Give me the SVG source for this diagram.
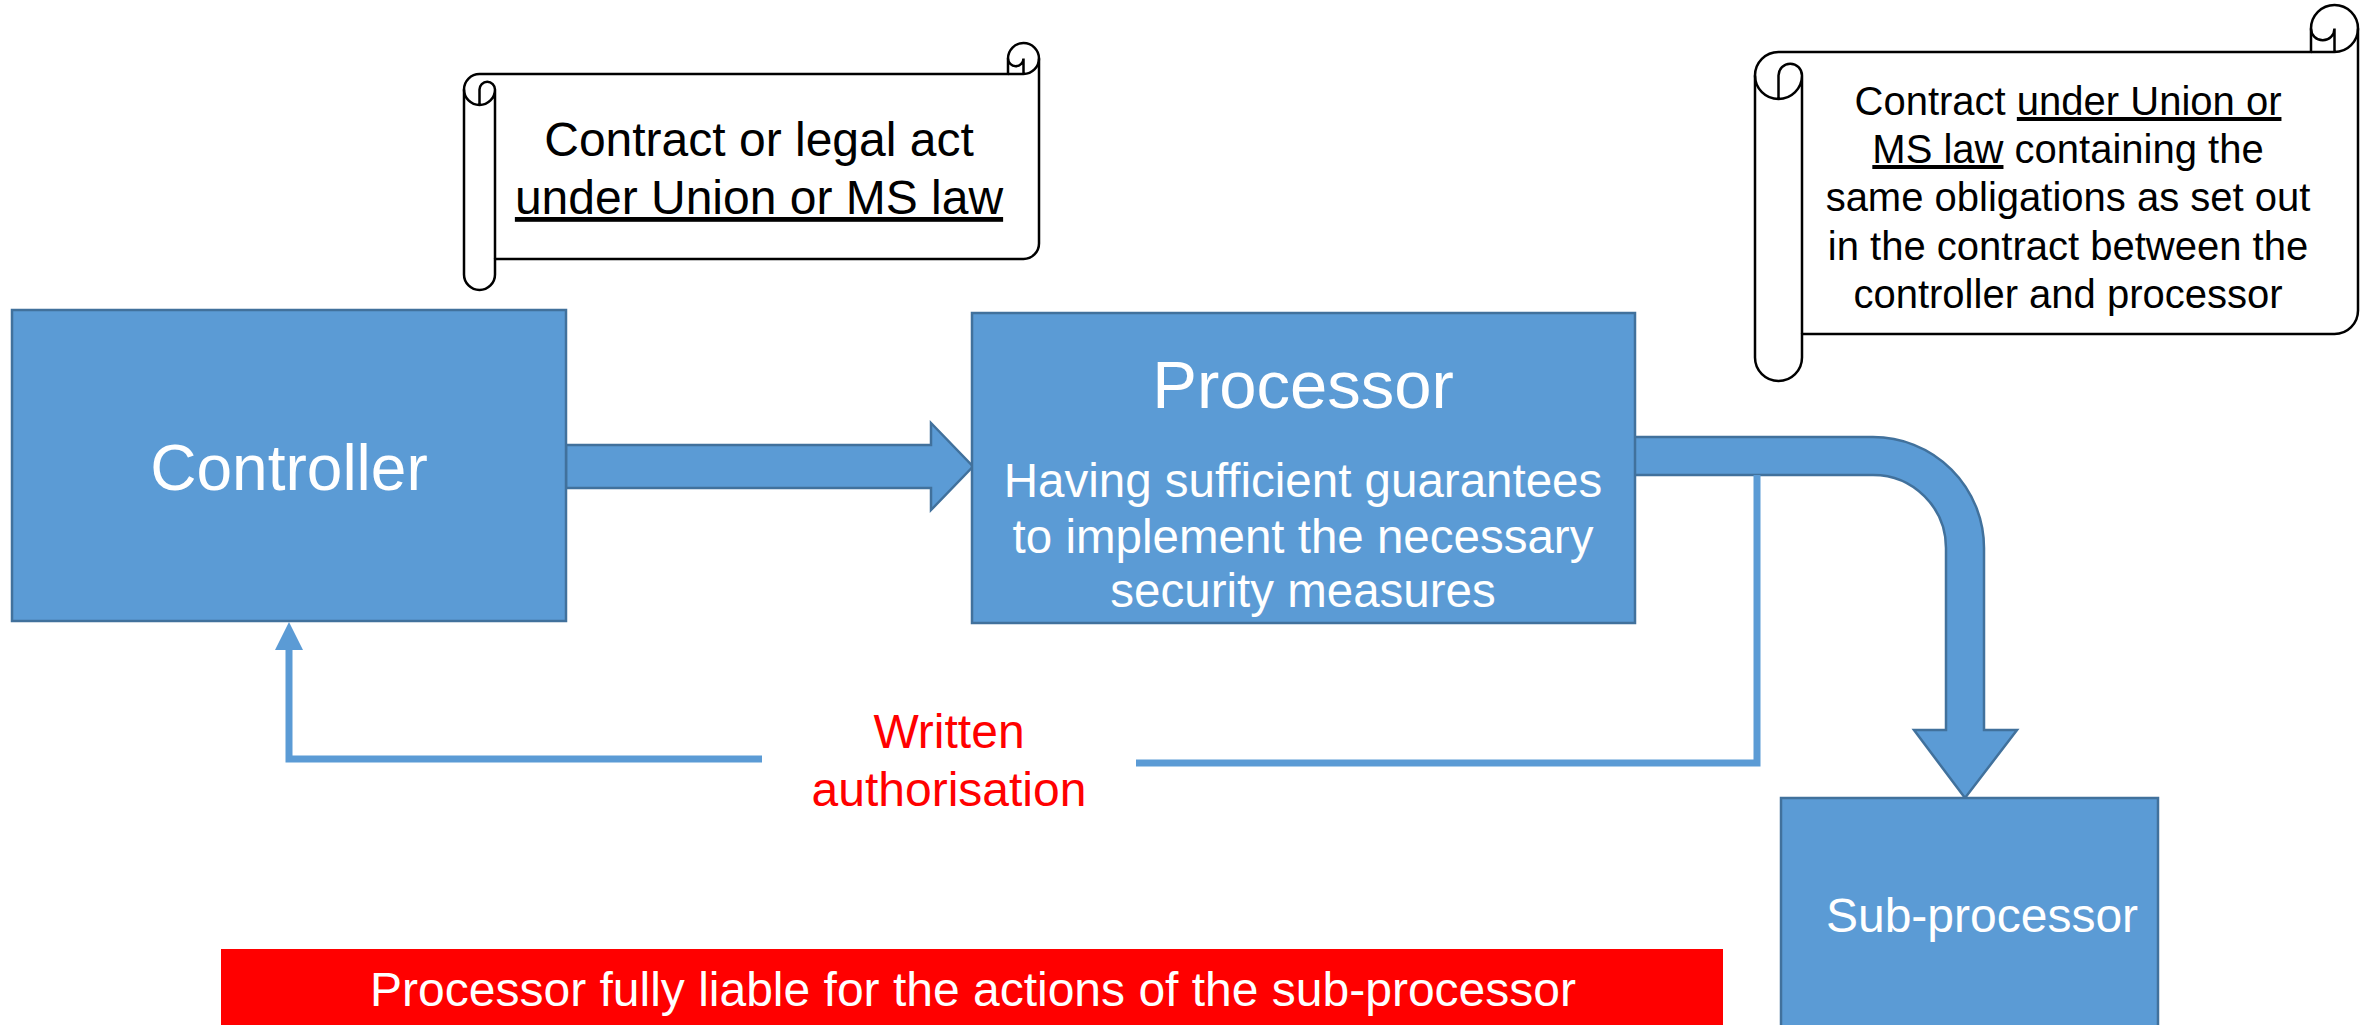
<svg xmlns="http://www.w3.org/2000/svg" width="2363" height="1025" viewBox="0 0 2363 1025">
  <style>
    .box { fill: #5B9BD5; stroke: #41719C; stroke-width: 2.5; }
    .arrow { fill: #5B9BD5; stroke: #41719C; stroke-width: 2.5; stroke-linejoin: miter; }
    .scroll { fill: #FFFFFF; stroke: #000000; stroke-width: 2.5; stroke-linejoin: round; }
    .scrollline { fill: none; stroke: #000000; stroke-width: 2.5; }
    .t { font-family: "Liberation Sans", Arial, sans-serif; text-anchor: middle; }
    .w { fill: #FFFFFF; }
    .k { fill: #000000; }
    .r { fill: #FF0000; }
    .u { text-decoration: underline; }
    .conn { fill: none; stroke: #5B9BD5; stroke-width: 7; stroke-linejoin: miter; }
  </style>
  <defs>
    <marker id="arrowhead" markerUnits="userSpaceOnUse" markerWidth="30" markerHeight="30" viewBox="0 -15 30 30" refX="0" refY="0" orient="auto">
      <path d="M0,-14 L28,0 L0,14 Z" fill="#5B9BD5"/>
    </marker>
  </defs>
  <rect width="2363" height="1025" fill="#FFFFFF"/>

  <g id="connectors">
    <path id="arrow-controller-processor" class="arrow" d="M 566 445 L 931 445 L 931 423 L 973 466.5 L 931 510 L 931 488 L 566 488 Z"/>
    <path id="arrow-processor-subprocessor" class="arrow" d="M 1625 437 L 1873 437 A 111 111 0 0 1 1984 548 L 1984 730 L 2017 730 L 1965 798 L 1914 730 L 1946 730 L 1946 548 A 73 73 0 0 0 1873 475 L 1625 475 Z"/>
    <path id="written-authorisation" class="conn" d="M 1757 475 L 1757 763 L 1136 763 M 762 759 L 289 759 L 289 650" marker-end="url(#arrowhead)"/>
    <text class="t r" x="949" y="748" font-size="48">Written</text>
    <text class="t r" x="949" y="806" font-size="48">authorisation</text>
  </g>

  <g id="controller">
    <rect class="box" x="12" y="310" width="554" height="311"/>
    <text class="t w" x="289" y="490" font-size="64">Controller</text>
  </g>

  <g id="processor">
    <rect class="box" x="972" y="313" width="663" height="310"/>
    <text class="t w" x="1303" y="408" font-size="67">Processor</text>
    <text class="t w" x="1303" y="497" font-size="47.5">Having sufficient guarantees</text>
    <text class="t w" x="1303" y="553" font-size="47.5">to implement the necessary</text>
    <text class="t w" x="1303" y="607" font-size="47.5">security measures</text>
  </g>

  <g id="sub-processor">
    <rect class="box" x="1781" y="798" width="377" height="240"/>
    <text class="t w" x="1982" y="932" font-size="48">Sub-processor</text>
  </g>

  <g id="scroll-contract">
    <path class="scroll" d="M 464 89.5 A 15.5 15.5 0 0 1 479.5 74 L 1008 74 L 1008 58.5 A 15.5 15.5 0 0 1 1039 58.5 L 1039 243.5 A 15.5 15.5 0 0 1 1023.5 259 L 495 259 L 495 274.5 A 15.5 15.5 0 0 1 464 274.5 Z"/>
    <path class="scrollline" d="M 1008 74 L 1023.5 74 A 15.5 15.5 0 0 0 1039 58.5 M 1023.5 74 L 1023.5 58.5 A 7.75 7.75 0 0 1 1008 58.5 M 479.5 105 L 479.5 89.5 A 7.75 7.75 0 0 1 495 89.5 A 15.5 15.5 0 0 1 464 89.5 M 495 89.5 L 495 259"/>
    <text class="t k" x="759" y="156" font-size="48">Contract or legal act</text>
    <text class="t k" x="759" y="214" font-size="48"><tspan class="u">under Union or MS law</tspan></text>
  </g>

  <g id="scroll-subcontract">
    <path class="scroll" d="M 1755 75.5 A 23.5 23.5 0 0 1 1778.5 52 L 2311 52 L 2311 28.5 A 23.5 23.5 0 0 1 2358 28.5 L 2358 310.5 A 23.5 23.5 0 0 1 2334.5 334 L 1802 334 L 1802 357.5 A 23.5 23.5 0 0 1 1755 357.5 Z"/>
    <path class="scrollline" d="M 2311 52 L 2334.5 52 A 23.5 23.5 0 0 0 2358 28.5 M 2334.5 52 L 2334.5 28.5 A 11.75 11.75 0 0 1 2311 28.5 M 1778.5 99 L 1778.5 75.5 A 11.75 11.75 0 0 1 1802 75.5 A 23.5 23.5 0 0 1 1755 75.5 M 1802 75.5 L 1802 334"/>
    <text class="t k" x="2068" y="115" font-size="40">Contract <tspan class="u">under Union or</tspan></text>
    <text class="t k" x="2068" y="163" font-size="40"><tspan class="u">MS law</tspan> containing the</text>
    <text class="t k" x="2068" y="211" font-size="40">same obligations as set out</text>
    <text class="t k" x="2068" y="260" font-size="40">in the contract between the</text>
    <text class="t k" x="2068" y="308" font-size="40">controller and processor</text>
  </g>

  <g id="liability-banner">
    <rect x="221" y="949" width="1502" height="90" fill="#FF0000"/>
    <text class="t w" x="973" y="1006" font-size="48">Processor fully liable for the actions of the sub-processor</text>
  </g>
</svg>
